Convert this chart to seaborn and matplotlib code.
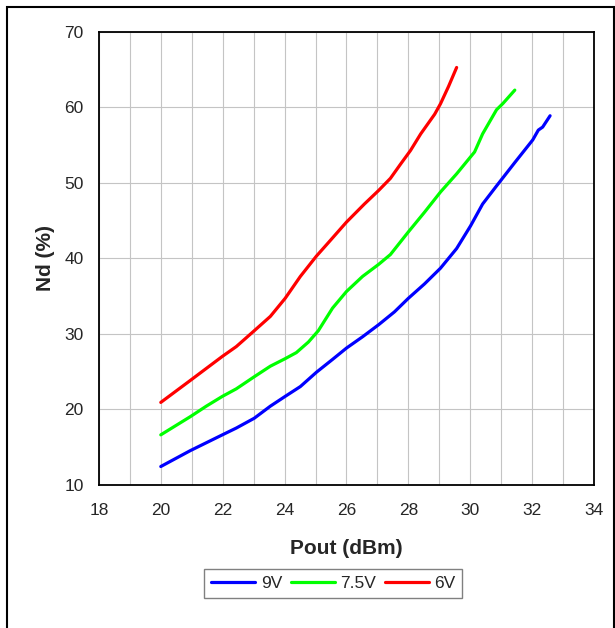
import numpy as np
import pandas as pd
import seaborn as sns
from matplotlib import pyplot as plt
from matplotlib.patches import Rectangle
from matplotlib.ticker import MultipleLocator

# Valori: Pout (dBm) -> Nd (%)
pout_9v = [20.0, 20.95, 21.99, 22.44, 23.02, 23.54, 24.02, 24.51, 25.03, 25.55, 26.0,
           26.52, 27.04, 27.55, 28.0, 28.52, 29.04, 29.56, 30.01, 30.4, 30.85, 31.44,
           32.02, 32.2, 32.34, 32.58]
nd_9v = [12.4, 14.5, 16.6, 17.5, 18.8, 20.4, 21.7, 23.0, 24.9, 26.6, 28.1,
         29.6, 31.2, 32.9, 34.7, 36.6, 38.7, 41.3, 44.3, 47.2, 49.6, 52.7,
         55.7, 57.0, 57.4, 58.9]

pout_75v = [20.0, 20.95, 21.47, 21.99, 22.44, 23.02, 23.54, 24.02, 24.38, 24.77, 25.09,
            25.55, 26.0, 26.52, 27.04, 27.42, 28.0, 28.52, 29.04, 29.56, 30.14, 30.4,
            30.85, 31.05, 31.44]
nd_75v = [16.6, 19.0, 20.4, 21.7, 22.7, 24.3, 25.7, 26.7, 27.5, 28.9, 30.4,
          33.4, 35.6, 37.6, 39.2, 40.5, 43.5, 46.1, 48.8, 51.2, 54.1, 56.5,
          59.7, 60.5, 62.3]

pout_6v = [20.0, 20.95, 21.99, 22.44, 23.02, 23.54, 24.02, 24.51, 25.03, 25.42, 26.0,
           26.58, 27.04, 27.42, 27.75, 28.07, 28.4, 28.85, 29.04, 29.3, 29.56]
nd_6v = [20.9, 23.8, 27.0, 28.3, 30.4, 32.3, 34.7, 37.6, 40.3, 42.1, 44.8,
         47.2, 49.0, 50.6, 52.5, 54.3, 56.5, 59.1, 60.5, 62.8, 65.3]

serie = ["9V", "7.5V", "6V"]
colori = ["#0000ff", "#00ff00", "#ff0000"]

dati = pd.concat([
    pd.DataFrame({"Pout": pout_9v, "Nd": nd_9v, "Vdd": serie[0]}),
    pd.DataFrame({"Pout": pout_75v, "Nd": nd_75v, "Vdd": serie[1]}),
    pd.DataFrame({"Pout": pout_6v, "Nd": nd_6v, "Vdd": serie[2]}),
], ignore_index=True)

sns.set_style("white")
plt.rcParams['font.family'] = ['Liberation Sans', 'DejaVu Sans']

fig = plt.figure(figsize=(6.15, 6.28), dpi=100)
ax = fig.add_axes([0.1608, 0.2283, 0.8051, 0.7207])

sns.lineplot(data=dati, x="Pout", y="Nd", hue="Vdd", hue_order=serie,
             palette=colori, sort=False, estimator=None, linewidth=2.3, ax=ax)

ax.set_xlim(18, 34)
ax.set_ylim(10, 70)
ax.xaxis.set_major_locator(MultipleLocator(2))
ax.xaxis.set_minor_locator(MultipleLocator(1))
ax.yaxis.set_major_locator(MultipleLocator(10))
ax.grid(True, which="both", axis="x", color="#c4c4c4", linewidth=0.8)
ax.grid(True, which="major", axis="y", color="#c4c4c4", linewidth=0.8)
ax.set_axisbelow(True)

ax.tick_params(axis="x", which="major", direction="in", length=4, width=1,
               pad=13, labelsize=12.5, color="black")
ax.tick_params(axis="x", which="minor", length=0)
ax.tick_params(axis="y", direction="in", length=4, width=1, pad=11,
               labelsize=12.5, color="black")

for s in ax.spines.values():
    s.set_color("black")
    s.set_linewidth(1.3)

ax.set_xlabel("Pout (dBm)", fontsize=15, fontweight="bold", labelpad=15)
ax.set_ylabel("Nd (%)", fontsize=15, fontweight="bold", labelpad=7)

leg = ax.legend(loc="center", bbox_to_anchor=(0.542, 0.0709),
                bbox_transform=fig.transFigure, ncol=3, frameon=True,
                fancybox=False, fontsize=12.5, handlelength=2.55,
                handletextpad=0.3, columnspacing=0.5, borderpad=0.4,
                borderaxespad=0)
leg.get_frame().set_edgecolor("#606060")
leg.get_frame().set_linewidth(1.0)
for linea in leg.get_lines():
    linea.set_linewidth(2.3)

# Cornice esterna del grafico
fig.patches.append(Rectangle((6.5 / 615, -0.05), (613.5 - 6.5) / 615, 1.05 - 6.5 / 628,
                             transform=fig.transFigure, fill=False,
                             edgecolor="black", linewidth=1.5))

fig.savefig("out.png", dpi=100)
